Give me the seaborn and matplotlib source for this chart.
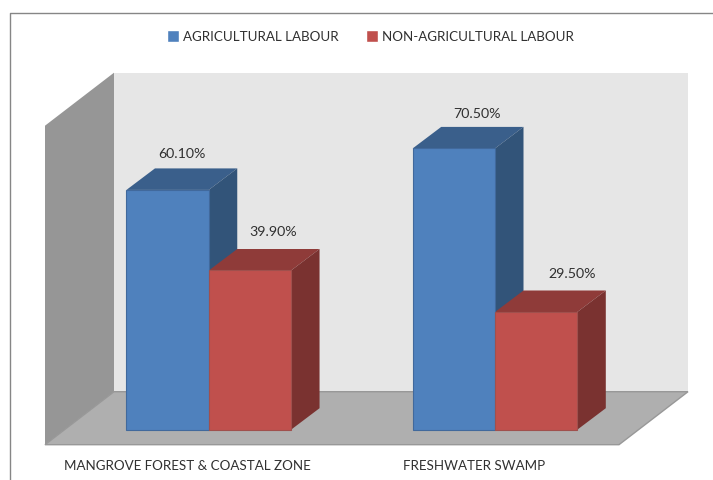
import matplotlib
matplotlib.use('Agg')
import matplotlib.pyplot as plt
import pandas as pd
import seaborn as sns
from matplotlib.lines import Line2D
from matplotlib.patches import Polygon

# --- data ---
zones = ["MANGROVE FOREST & COASTAL ZONE", "FRESHWATER SWAMP"]
labour = ["AGRICULTURAL LABOUR", "NON-AGRICULTURAL LABOUR"]
agri_share = [60.1, 70.5]
non_agri_share = [39.9, 29.5]

W, H = 713, 481
PX_X = 286.25        # pixels per category
PX_Y = 3.99          # pixels per percent
X0, Y0 = 208.75, 430 # pixel position of first group centre / zero line
AX_BOTTOM = 452      # bottom of axes, pixels from top
DX, DY = 28.5, 21.5  # 3d depth in pixels
NUDGE = 0.7          # small downward shift of the whole plot, pixels

df = pd.DataFrame({
    'zone': zones * 2,
    'labour': [labour[0]] * 2 + [labour[1]] * 2,
    'share': agri_share + non_agri_share,
})

front = {labour[0]: '#4F81BD', labour[1]: '#C0504D'}
top = {labour[0]: '#3A5F8B', labour[1]: '#8F3B39'}
side = {labour[0]: '#325479', labour[1]: '#7A3230'}
edge = {labour[0]: '#41699C', labour[1]: '#A0504D'}


def px(x, y):
    """Pixel position (from top left) to data coordinates."""
    return (x - X0) / PX_X, (Y0 - y) / PX_Y


sns.set_theme(style='white')
plt.rcParams['font.family'] = ['Lato', 'DejaVu Sans']
TXT = '#303030'

fig = plt.figure(figsize=(W / 100, H / 100), dpi=100)
ax = fig.add_axes([0, 1 - AX_BOTTOM / H, 1, AX_BOTTOM / H])

sns.barplot(data=df, x='zone', y='share', hue='labour', order=zones,
            hue_order=labour, palette=front, width=0.575, gap=0,
            saturation=1, ax=ax, zorder=5, legend=True)

ax.set_xlim(px(0, 0)[0], px(W, 0)[0])
ax.set_ylim(px(0, AX_BOTTOM - NUDGE)[1], px(0, -NUDGE)[1])

# walls and floor
ax.add_patch(Polygon([px(114, 73), px(688, 73), px(688, 392), px(114, 392)],
                     fc='#E6E6E6', ec='none', zorder=1))
ax.add_patch(Polygon([px(45, 126), px(114, 73), px(114, 392), px(45, 445)],
                     fc='#969696', ec='none', zorder=1))
ax.add_patch(Polygon([px(45, 445), px(114, 392), px(688, 392), px(619, 445)],
                     fc='#AFAFAF', ec='#989898', lw=1, zorder=1.5))

# top and side faces built from the bars themselves
ddx, ddy = DX / PX_X, DY / PX_Y
for i, name in enumerate(labour):
    for bar in ax.containers[i]:
        x0, x1 = bar.get_x(), bar.get_x() + bar.get_width()
        h = bar.get_height()
        bar.set_edgecolor(edge[name])
        bar.set_linewidth(0.8)
        ax.add_patch(Polygon([(x0, h), (x1, h), (x1 + ddx, h + ddy), (x0 + ddx, h + ddy)],
                             fc=top[name], ec='none', zorder=3 + i))
        ax.add_patch(Polygon([(x1, 0), (x1, h), (x1 + ddx, h + ddy), (x1 + ddx, ddy)],
                             fc=side[name], ec='none', zorder=3 + i))

# value labels
label_shift = [[0, 9], [9, 22]]    # pixels right of the top face centre
label_lift = [15.5, 13.5, 18, 17]  # pixels above the top face
for i in range(2):
    for j, bar in enumerate(ax.containers[i]):
        h = bar.get_height()
        x = bar.get_x() + bar.get_width() / 2 + (DX / 2 + label_shift[i][j]) / PX_X
        y = h + (DY + label_lift[i * 2 + j]) / PX_Y
        ax.text(x, y, f"{h:.2f}%", ha='center', va='center', fontsize=10.2,
                color=TXT, zorder=6)

# category labels sit a bit left of the bar groups
ax.set_xticks([px(187.5, 0)[0], px(474, 0)[0]], zones)
ax.tick_params(axis='x', length=0, pad=6, labelsize=9.6, labelcolor=TXT)
ax.tick_params(axis='y', left=False, labelleft=False)
ax.set_xlabel('')
ax.set_ylabel('')
sns.despine(ax=ax, left=True, bottom=True)
ax.patch.set_alpha(0)

handles, names = ax.get_legend_handles_labels()
ax.legend(handles, names, ncol=2, frameon=False, loc='center',
          bbox_to_anchor=(370.5 / W, 1 - 37 / AX_BOTTOM), fontsize=9.6,
          handlelength=0.9, handleheight=1.05, handletextpad=0.3,
          columnspacing=2.05, labelcolor=TXT, borderpad=0)

# outer chart frame, runs off the image at right and bottom
fig.add_artist(Line2D([9.5 / W, 9.5 / W, 1], [0, 1 - 13.5 / H, 1 - 13.5 / H],
                      color='#868686', lw=1))

fig.savefig('out.png', dpi=100)
